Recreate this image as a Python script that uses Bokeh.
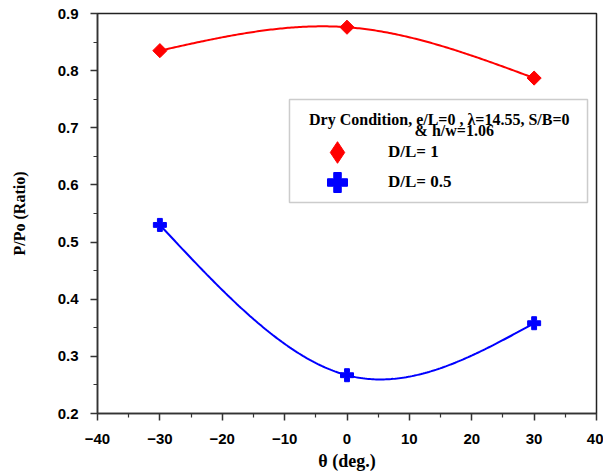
import numpy as np
from bokeh.plotting import figure
from bokeh.models import (Legend, LegendItem, Label, BoxAnnotation, FixedTicker,
                          Range1d)
from bokeh.embed import file_html
from bokeh.resources import INLINE

# ---- data ----
theta = [-30, 0, 30]
dl1 = [0.835, 0.876, 0.787]
dl05 = [0.530, 0.267, 0.358]
x_ticks = [-40, -30, -20, -10, 0, 10, 20, 30, 40]
y_ticks = [0.2, 0.3, 0.4, 0.5, 0.6, 0.7, 0.8, 0.9]
legend_title_1 = "Dry Condition, e/L=0 , \u03bb=14.55, S/B=0"
legend_title_2 = "& h/w=1.06"
labels = ["D/L= 1", "D/L= 0.5"]


def natural_spline(xs, ys, n=200):
    xs = np.asarray(xs, float)
    ys = np.asarray(ys, float)
    k = len(xs)
    h = np.diff(xs)
    A = np.zeros((k, k))
    r = np.zeros(k)
    A[0, 0] = A[-1, -1] = 1
    for i in range(1, k - 1):
        A[i, i - 1] = h[i - 1]
        A[i, i] = 2 * (h[i - 1] + h[i])
        A[i, i + 1] = h[i]
        r[i] = 6 * ((ys[i + 1] - ys[i]) / h[i] - (ys[i] - ys[i - 1]) / h[i - 1])
    M = np.linalg.solve(A, r)
    xx = np.linspace(xs[0], xs[-1], n)
    yy = np.empty_like(xx)
    for j, x in enumerate(xx):
        i = min(np.searchsorted(xs, x, side="right") - 1, k - 2)
        t0 = xs[i + 1] - x
        t1 = x - xs[i]
        hi = h[i]
        yy[j] = (M[i] * t0 ** 3 / (6 * hi) + M[i + 1] * t1 ** 3 / (6 * hi)
                 + (ys[i] / hi - M[i] * hi / 6) * t0
                 + (ys[i + 1] / hi - M[i + 1] * hi / 6) * t1)
    return xx, yy


p = figure(width=603, height=473, output_backend="svg", toolbar_location=None,
           x_range=Range1d(-40, 40), y_range=Range1d(0.2, 0.9),
           min_border_left=97, min_border_right=7, min_border_top=13,
           min_border_bottom=60)
p.grid.visible = False
p.background_fill_color = "white"
p.border_fill_color = "white"
p.outline_line_color = "#222222"
p.outline_line_width = 1.5

sx, sy = natural_spline(theta, dl1)
p.line(sx, sy, line_color="#ff0000", line_width=2)
bx, by = natural_spline(theta, dl05)
p.line(bx, by, line_color="#0000ff", line_width=2)

r_red = p.scatter(theta, dl1, marker="square", angle=np.pi / 4,
                  size=10, fill_color="#ff0000", line_color="#ff0000")
r_blue = p.scatter(theta, dl05, marker="plus", size=13,
                   fill_color="#0000ff", line_color="#0000ff")
# hidden twin of the red series, used only so the legend key is a diamond
r_red_key = p.scatter(theta, dl1, marker="diamond", size=10, visible=False,
                      fill_color="#ff0000", line_color="#ff0000")

for ax in (p.xaxis[0], p.yaxis[0]):
    ax.axis_line_color = "#333333"
    ax.axis_line_width = 1.5
    ax.major_tick_line_color = "#333333"
    ax.minor_tick_line_color = "#333333"
    ax.major_tick_line_width = 1.5
    ax.minor_tick_line_width = 1.2
    ax.major_tick_out = 7
    ax.major_tick_in = 0
    ax.minor_tick_out = 4
    ax.minor_tick_in = 0
    ax.major_label_text_font = "Liberation Sans"
    ax.major_label_text_font_style = "bold"
    ax.major_label_text_font_size = "15px"
    ax.major_label_text_color = "black"
    ax.axis_label_text_font = "Liberation Serif"
    ax.axis_label_text_font_style = "bold"
    ax.axis_label_text_color = "black"

p.xaxis.ticker = FixedTicker(ticks=x_ticks,
                             minor_ticks=[v + 5 for v in x_ticks[:-1]])
p.yaxis.ticker = FixedTicker(ticks=y_ticks,
                             minor_ticks=[round(v + 0.05, 2) for v in y_ticks[:-1]])
p.xaxis.major_label_standoff = 13
p.yaxis.major_label_standoff = 12
p.xaxis.axis_label = "\u03b8 (deg.)"
p.xaxis.axis_label_text_font_size = "18px"
p.xaxis.axis_label_standoff = 4
p.yaxis.axis_label = "P/Po (Ratio)"
p.yaxis.axis_label_text_font_size = "16px"
p.yaxis.axis_label_standoff = 27

# legend box and title
box = BoxAnnotation(left=-9.22, right=38.56, top=0.7495, bottom=0.5692,
                    fill_color="white", fill_alpha=1.0,
                    line_color="#555555", line_width=1.5, level="overlay")
p.add_layout(box)
for txt, lx, ly in ((legend_title_1, 14.8, 0.7145), (legend_title_2, 17.2, 0.6952)):
    p.add_layout(Label(x=lx, y=ly, text=txt, text_align="center",
                       text_baseline="middle", text_font="Liberation Serif",
                       text_font_style="bold", text_font_size="16px",
                       text_color="black", level="overlay"))

# two single-item legends (frame-relative screen placement)
frame_h = 413 - 13
for rend, lab, cy, g in ((r_red_key, labels[0], 152 - 13, 54),
                         (r_blue, labels[1], 182 - 13, 50)):
    leg = Legend(items=[LegendItem(label=lab, renderers=[rend])],
                 location=(240 - g // 2, frame_h - cy - g // 2),
                 margin=0, padding=0, spacing=0,
                 glyph_width=g, glyph_height=g, label_standoff=51 - g // 2,
                 border_line_color=None, background_fill_alpha=0,
                 inactive_fill_alpha=0,
                 label_text_font="Liberation Serif", label_text_font_style="bold",
                 label_text_font_size="17px", label_text_color="black")
    p.add_layout(leg, "center")

open("out.html", "w").write(file_html(p, INLINE))
